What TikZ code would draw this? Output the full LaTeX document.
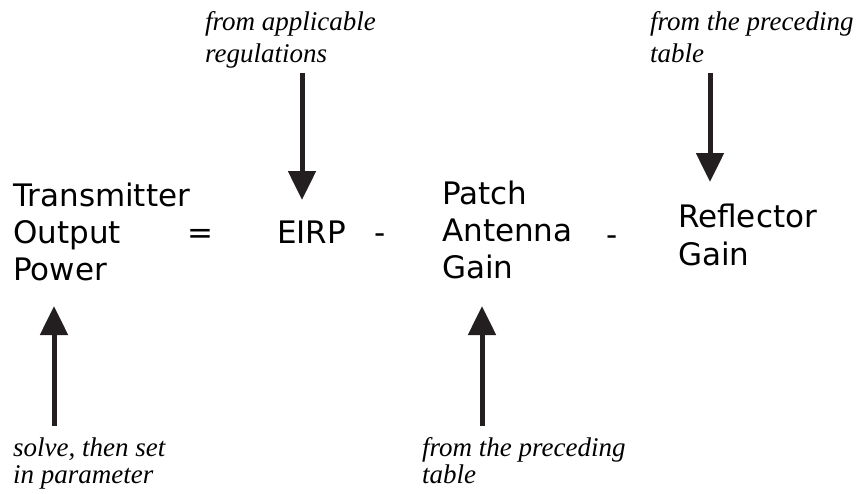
\documentclass[tikz,border=0pt]{standalone}
\usepackage{fontspec}
\usetikzlibrary{arrows.meta}
\setmainfont{Liberation Serif}
\setsansfont{DejaVu Sans}

\begin{document}
\begin{tikzpicture}[x=1pt,y=1pt,yscale=-1,
  term/.style={anchor=base west,inner sep=0pt,align=left,font=\sffamily\fontsize{31}{37}\selectfont},
  sign/.style={anchor=base,inner sep=0pt,font=\sffamily\fontsize{31}{37}\selectfont},
  note/.style={anchor=base west,inner sep=0pt,align=left,font=\itshape\fontsize{27}{32}\selectfont},
  feed/.style={line width=5pt,draw={rgb,255:red,35;green,31;blue,32},-{Triangle[width=27pt,length=29pt]}}]
%set diagram size
\useasboundingbox (0,0) rectangle (860,493);

% Text Node
\node [term] (txpower) at (13,280) {Transmitter\\Output\\Power};
% Text Node
\node [sign] (eqsign) at (200,243) {=};
% Text Node
\node [term] (eirp) at (277,243) {EIRP};
% Text Node
\node [sign] (minusa) at (380,243) {-};
% Text Node
\node [term] (patchgain) at (442,278) {Patch\\Antenna\\Gain};
% Text Node
\node [sign] (minusb) at (612,245) {-};
% Text Node
\node [term,font=\sffamily\fontsize{31}{38}\selectfont] (reflgain) at (678,265) {Reflector\\Gain};

% Text Node
\node [note] (regnote) at (205,62) {from applicable\\regulations};
% Text Node
\node [note] (reflnote) at (650,62) {from the preceding\\table};
% Text Node
\node [note,font=\itshape\fontsize{27}{26.5}\selectfont] (solvenote) at (13,483) {solve, then set\\in parameter};
% Text Node
\node [note,font=\itshape\fontsize{27}{26.5}\selectfont] (patchnote) at (422,483) {from the preceding\\table};

%Arrow ends
\coordinate (regtop) at (302,73);
\coordinate (regtip) at (302,200);
\coordinate (refltop) at (710,73);
\coordinate (refltip) at (710,182);
\coordinate (solvebot) at (54,426);
\coordinate (solvetip) at (54,306);
\coordinate (patchbot) at (482,426);
\coordinate (patchtip) at (482,306);

%Straight Lines
\draw [feed] (regtop) -- (regtip);
%Straight Lines
\draw [feed] (refltop) -- (refltip);
%Straight Lines
\draw [feed] (solvebot) -- (solvetip);
%Straight Lines
\draw [feed] (patchbot) -- (patchtip);

\end{tikzpicture}
\end{document}
